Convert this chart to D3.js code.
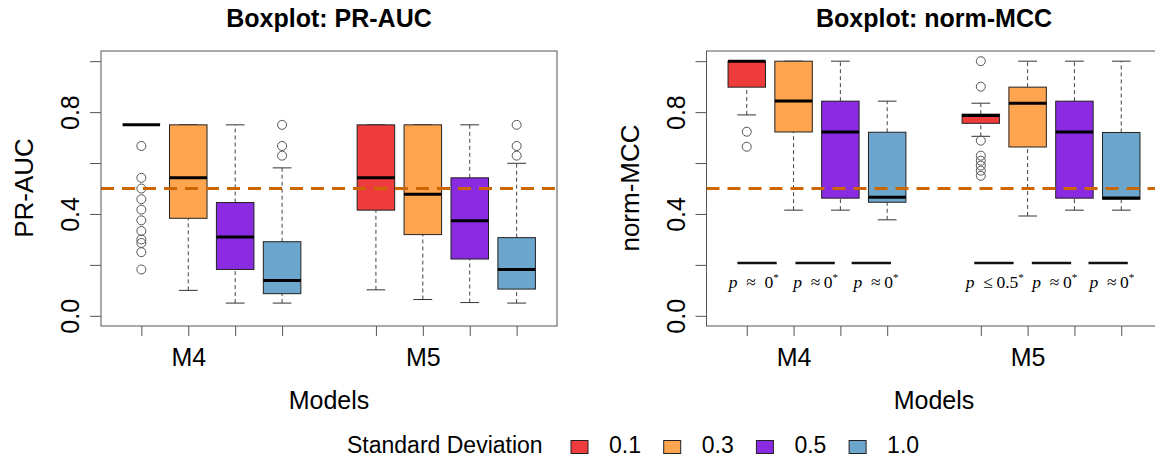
<!DOCTYPE html>
<html>
<head>
<meta charset="utf-8">
<script src="https://cdn.jsdelivr.net/npm/d3@7"></script>
<style>
  html, body { margin: 0; padding: 0; background: #fff; }
  svg { display: block; font-family: "Liberation Sans", Arial, sans-serif; }
</style>
</head>
<body>
<svg id="chart" width="1155" height="461"></svg>
<script>
// ---- data ---------------------------------------------------------------
const models = ["M4", "M5"];
const sdLevels = ["0.1", "0.3", "0.5", "1.0"];
// box positions along the x axis: four SD levels per model, gap between models
const boxPositions = [1, 2, 3, 4, 6, 7, 8, 9];
const xTickLabels = ["", "M4", "", "", "", "M5", "", ""];
const yTickValues = [0, 0.2, 0.4, 0.6, 0.8, 1.0];
const yLabelValues = [0, 0.4, 0.8];
const referenceLevel = 0.5;

// five-number summaries: [lower whisker, Q1, median, Q3, upper whisker]
const prAucStats = [
  [0.75, 0.75, 0.75, 0.75, 0.75],
  [0.10, 0.383, 0.542, 0.75, 0.75],
  [0.05, 0.182, 0.31, 0.445, 0.75],
  [0.05, 0.087, 0.139, 0.291, 0.581],
  [0.102, 0.415, 0.542, 0.75, 0.75],
  [0.064, 0.319, 0.477, 0.75, 0.75],
  [0.052, 0.223, 0.373, 0.542, 0.75],
  [0.05, 0.105, 0.182, 0.307, 0.599]
];
const prAucOutliers = [
  [0.667, 0.542, 0.5, 0.458, 0.417, 0.375, 0.333, 0.3, 0.286, 0.25, 0.182],
  [], [],
  [0.75, 0.667, 0.629],
  [], [], [],
  [0.75, 0.667, 0.629]
];

const normMccStats = [
  [0.789, 0.898, 1.0, 1.0, 1.0],
  [0.415, 0.722, 0.844, 1.0, 1.0],
  [0.415, 0.462, 0.722, 0.843, 1.0],
  [0.377, 0.446, 0.466, 0.721, 0.843],
  [0.705, 0.756, 0.787, 0.792, 0.835],
  [0.392, 0.663, 0.835, 0.898, 1.0],
  [0.415, 0.462, 0.722, 0.843, 1.0],
  [0.415, 0.458, 0.463, 0.72, 1.0]
];
const normMccOutliers = [
  [0.723, 0.664], [], [], [],
  [1.0, 0.9, 0.688, 0.629, 0.609, 0.59, 0.57, 0.55],
  [], [], []
];

// significance annotations on the norm-MCC panel
const pLinePositions = [1.22, 2.46, 3.66, 6.28, 7.51, 8.72];
const pLabelPositions = [1.15, 2.47, 3.76, 6.30, 7.58, 8.80];
const pRelations = ["≈", "≈", "≈", "≤", "≈", "≈"];
const pValues = ["0", "0", "0", "0.5", "0", "0"];
const pLineLevel = 0.207;

// ---- styles -------------------------------------------------------------
const fillColors = ["#EE3B3B", "#FFA54F", "#8A2BE2", "#6CA6CD"];
const refColor = "#CD6600";

const svg = d3.select("#chart");
svg.append("rect").attr("width", 1155).attr("height", 461).attr("fill", "#fff");

const y = d3.scaleLinear().domain([-0.04, 1.04]).range([326, 51]);

const panels = [
  { title: "Boxplot: PR-AUC", ylab: "PR-AUC", stats: prAucStats, outliers: prAucOutliers,
    left: 101, right: 557, annotate: false },
  { title: "Boxplot: norm-MCC", ylab: "norm-MCC", stats: normMccStats, outliers: normMccOutliers,
    left: 706.5, right: 1161.5, annotate: true }
];

panels.forEach(p => {
  const x = d3.scaleLinear().domain([0.14, 9.86]).range([p.left, p.right]);
  const bw = x(0.8) - x(0);
  const cx = (p.left + p.right) / 2;
  const g = svg.append("g");

  // title
  g.append("text").attr("x", cx).attr("y", 27).attr("text-anchor", "middle")
    .attr("font-weight", "bold").attr("font-size", 25).text(p.title);

  // boxes
  const boxes = g.selectAll("g.box").data(p.stats).join("g").attr("class", "box");
  boxes.each(function (s, i) {
    const b = d3.select(this);
    const px = x(boxPositions[i]);
    const color = fillColors[i % 4];
    // whiskers
    b.append("line").attr("x1", px).attr("x2", px).attr("y1", y(s[0])).attr("y2", y(s[1]))
      .attr("stroke", "#444").attr("stroke-dasharray", "4,3");
    b.append("line").attr("x1", px).attr("x2", px).attr("y1", y(s[3])).attr("y2", y(s[4]))
      .attr("stroke", "#444").attr("stroke-dasharray", "4,3");
    // caps
    [s[0], s[4]].forEach(v => {
      b.append("line").attr("x1", px - bw / 4).attr("x2", px + bw / 4)
        .attr("y1", y(v)).attr("y2", y(v)).attr("stroke", "#333");
    });
    // box
    b.append("rect").attr("x", px - bw / 2).attr("width", bw)
      .attr("y", y(s[3])).attr("height", Math.max(0, y(s[1]) - y(s[3])))
      .attr("fill", color).attr("stroke", "#222").attr("stroke-width", 1);
    // median
    b.append("line").attr("x1", px - bw / 2).attr("x2", px + bw / 2)
      .attr("y1", y(s[2])).attr("y2", y(s[2])).attr("stroke", "#000").attr("stroke-width", 3);
    // outliers
    b.selectAll("circle").data(p.outliers[i]).join("circle")
      .attr("cx", px).attr("cy", d => y(d)).attr("r", 4.5)
      .attr("fill", "none").attr("stroke", "#555").attr("stroke-width", 1);
  });

  // reference line at 0.5
  g.append("line").attr("x1", p.left).attr("x2", p.right)
    .attr("y1", y(referenceLevel)).attr("y2", y(referenceLevel))
    .attr("stroke", refColor).attr("stroke-width", 3).attr("stroke-dasharray", "13,8");

  // plot frame
  g.append("rect").attr("x", p.left).attr("y", 51).attr("width", p.right - p.left).attr("height", 275)
    .attr("fill", "none").attr("stroke", "#555");

  // y axis
  const ya = g.append("g").attr("transform", `translate(${p.left},0)`)
    .call(d3.axisLeft(y).tickValues(yTickValues).tickSize(11).tickSizeOuter(0)
      .tickFormat(d => yLabelValues.some(v => Math.abs(v - d) < 1e-9) ? d3.format(".1f")(d) : ""));
  ya.select(".domain").remove();
  ya.selectAll(".tick line").attr("stroke", "#555");
  ya.selectAll(".tick text").attr("transform", "rotate(-90)").attr("x", 0).attr("y", -22)
    .attr("dy", 0).attr("text-anchor", "middle").attr("font-size", 25)
    .attr("font-family", "Liberation Sans, Arial, sans-serif").attr("fill", "#000");

  // x axis
  const xa = g.append("g").attr("transform", "translate(0,326)")
    .call(d3.axisBottom(x).tickValues(boxPositions).tickSize(10).tickSizeOuter(0).tickPadding(12)
      .tickFormat((d, i) => xTickLabels[i]));
  xa.select(".domain").remove();
  xa.selectAll(".tick line").attr("stroke", "#555");
  xa.selectAll(".tick text").attr("font-size", 25)
    .attr("font-family", "Liberation Sans, Arial, sans-serif").attr("fill", "#000");

  // axis titles
  g.append("text").attr("x", cx).attr("y", 409).attr("text-anchor", "middle")
    .attr("font-size", 25).text("Models");
  g.append("text").attr("transform", `translate(${p.left - 68},${188}) rotate(-90)`)
    .attr("text-anchor", "middle").attr("font-size", 26).text(p.ylab);

  // significance annotations
  if (p.annotate) {
    const half = x(0.42) - x(0);
    pLinePositions.forEach(pos => {
      g.append("line").attr("x1", x(pos) - half).attr("x2", x(pos) + half)
        .attr("y1", y(pLineLevel)).attr("y2", y(pLineLevel))
        .attr("stroke", "#111").attr("stroke-width", 2.5);
    });
    pLabelPositions.forEach((pos, i) => {
      const t = g.append("text").attr("x", x(pos)).attr("y", y(pLineLevel) + 25)
        .attr("text-anchor", "middle").attr("font-size", 17.5)
        .attr("font-family", "Liberation Serif, 'DejaVu Serif', serif");
      t.append("tspan").attr("font-style", "italic").text("p");
      t.append("tspan").text(i === 0 ? "\u2002" + pRelations[i] + "\u2002" : "\u2002" + pRelations[i] + "\u2009");
      t.append("tspan").text(pValues[i]);
      t.append("tspan").attr("font-size", 11).attr("dy", -7).text("*");
    });
  }
});

// legend
const legend = svg.append("g");
legend.append("text").attr("x", 347).attr("y", 453).attr("font-size", 23).text("Standard Deviation");
const items = legend.selectAll("g.item").data(sdLevels).join("g").attr("class", "item")
  .attr("transform", (d, i) => `translate(${571 + i * 92.7},0)`);
items.append("rect").attr("x", 0).attr("y", 440.5).attr("width", 17).attr("height", 13)
  .attr("fill", (d, i) => fillColors[i]).attr("stroke", "#222");
items.append("text").attr("x", 38).attr("y", 453).attr("font-size", 23).text(d => d);
</script>
</body>
</html>
